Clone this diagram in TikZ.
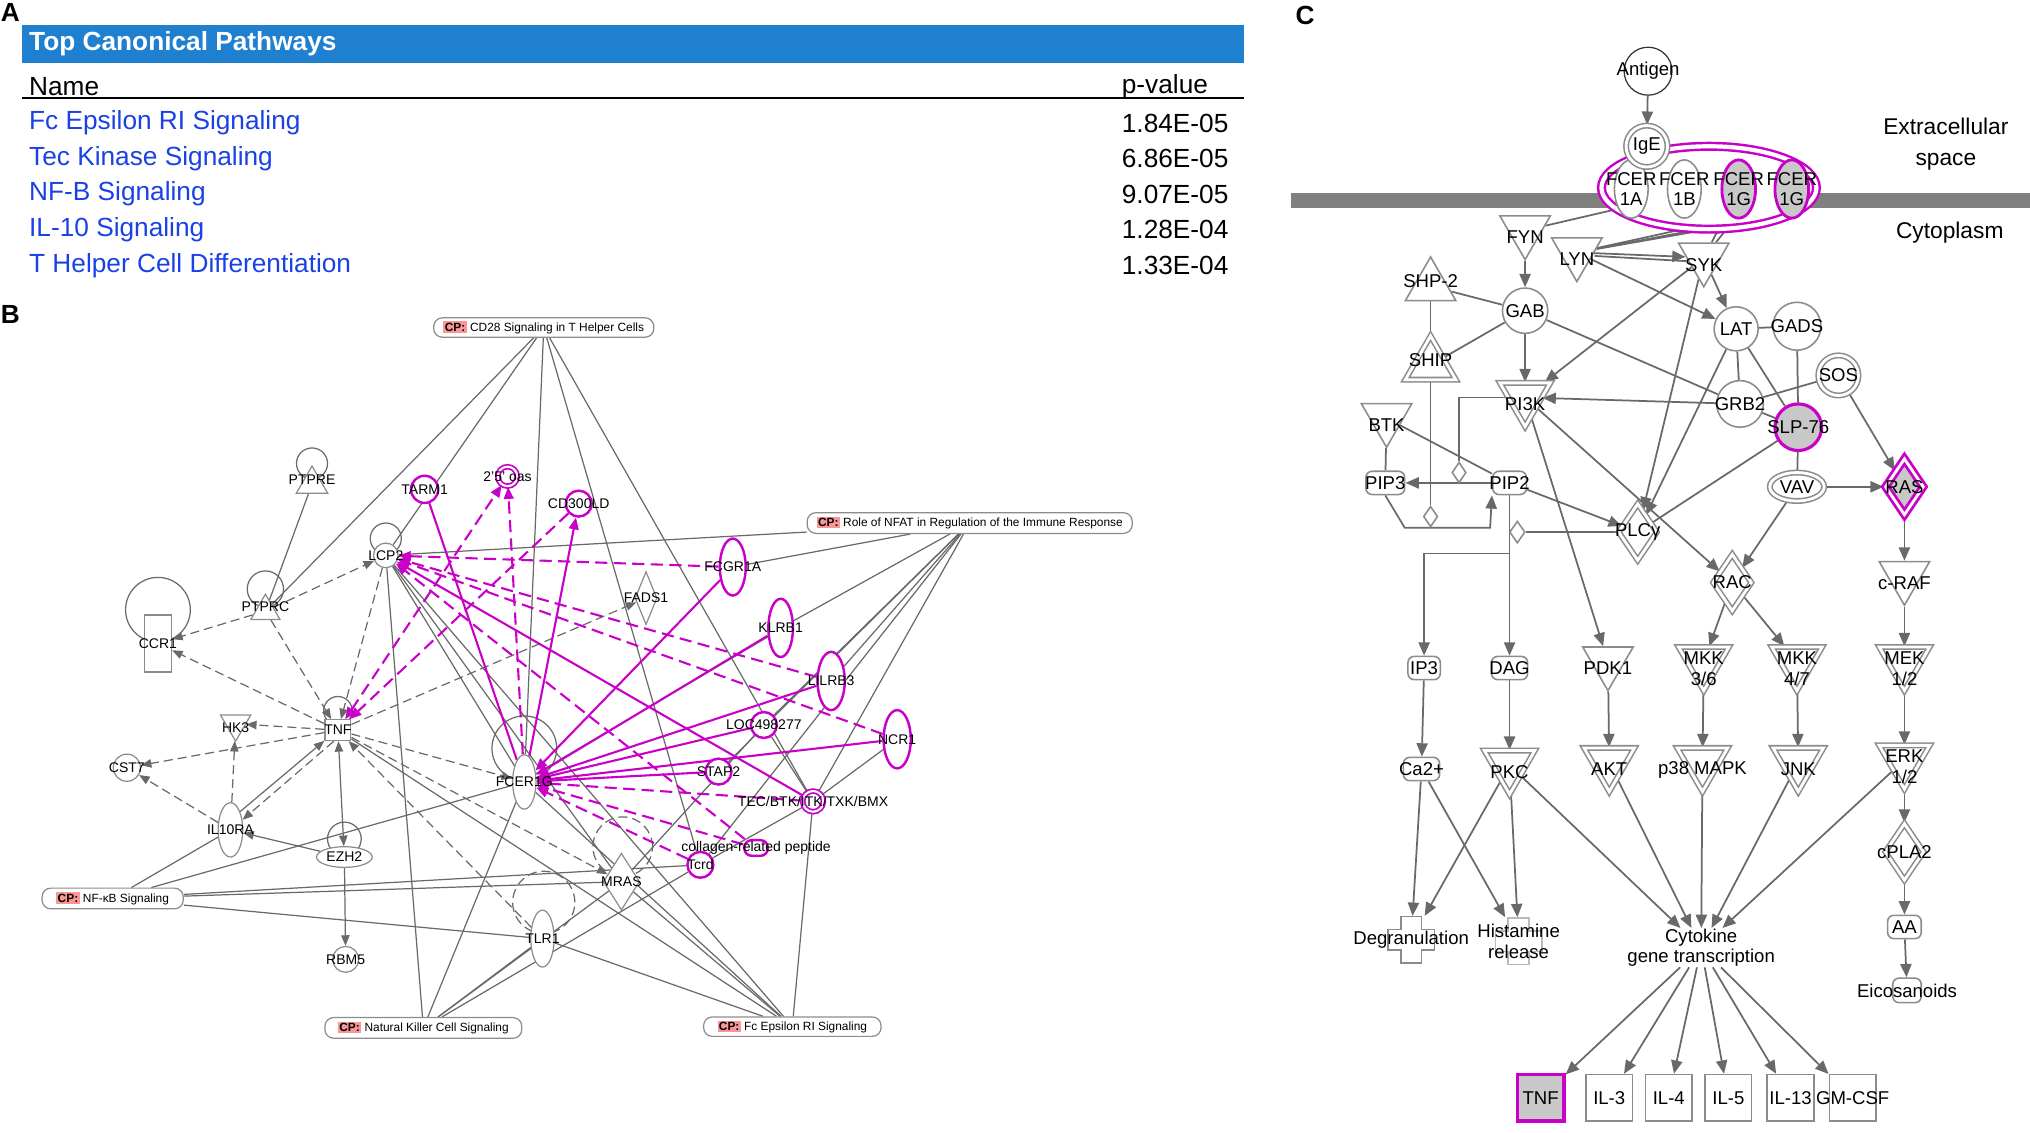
\documentclass[tikz,border=0pt]{standalone}
\usepackage{fontspec}
\setmainfont{Liberation Sans}
\usetikzlibrary{arrows.meta,shapes.geometric}
\pgfdeclarelayer{edges}
\pgfsetlayers{edges,main}

\definecolor{hdrblue}{RGB}{32,128,208}
\definecolor{pwblue}{RGB}{25,65,230}
\definecolor{ipamag}{RGB}{200,0,200}
\definecolor{lngray}{RGB}{105,105,105}
\definecolor{ndgray}{RGB}{140,140,140}
\definecolor{cppink}{RGB}{250,150,150}
\definecolor{fillgray}{RGB}{200,200,200}
\definecolor{membgray}{RGB}{128,128,128}

\newcommand\pxu{0.37pt}
\newcommand\cptag{{\setlength\fboxsep{0.4pt}\colorbox{cppink}{\bfseries CP:}}}

\tikzset{
  % panel A
  letter/.style={font=\fontsize{7.5}{8}\selectfont\bfseries, inner sep=0},
  hdrbar/.style={fill=hdrblue, minimum width=944*\pxu, minimum height=30*\pxu, inner sep=0},
  hdrtxt/.style={text=white, font=\fontsize{7.5}{8}\selectfont\bfseries, inner sep=0, anchor=west},
  colhead/.style={font=\fontsize{7.5}{8}\selectfont, inner sep=0, anchor=west},
  pwname/.style={text=pwblue, font=\fontsize{7.5}{8}\selectfont, inner sep=0, anchor=west},
  pval/.style={font=\fontsize{7.5}{8}\selectfont, inner sep=0, anchor=west},
  % panel B
  blb/.style={font=\fontsize{4}{4.4}\selectfont, inner sep=0},
  bnode/.style={draw=ndgray, fill=white, inner sep=0, line width=0.35pt},
  gcir/.style={bnode, circle, minimum size=20*\pxu, label={[blb]center:#1}},
  mcir/.style={bnode, circle, draw=ipamag, line width=0.7pt, minimum size=20*\pxu, label={[blb]center:#1}},
  mell/.style={bnode, ellipse, draw=ipamag, line width=0.7pt, label={[blb]center:#1}},
  gell/.style={bnode, ellipse, label={[blb]center:#1}},
  grect/.style={bnode, rectangle, label={[blb]center:#1}},
  gdia/.style={bnode, diamond, label={[blb]center:#1}},
  gtri/.style={bnode, regular polygon, regular polygon sides=3, minimum size=28*\pxu, label={[blb,yshift=1.3pt]center:#1}},
  gdtri/.style={bnode, regular polygon, regular polygon sides=3, shape border rotate=180, minimum size=27*\pxu, label={[blb,yshift=-1pt]center:#1}},
  cp/.style={draw=ndgray, fill=white, rounded corners=2.5pt, inner sep=0, line width=0.35pt, font=\fontsize{3.4}{3.6}\selectfont},
  gl/.style={draw=lngray, line width=0.35pt},
  gdl/.style={gl, dash pattern=on 2.6pt off 1.4pt},
  gs/.style={gl, -{Triangle[length=3pt,width=2.4pt]}},
  gd/.style={gs, dash pattern=on 2.6pt off 1.4pt},
  ml/.style={draw=ipamag, line width=0.6pt},
  ms/.style={ml, -{Triangle[length=3.4pt,width=2.8pt]}},
  md/.style={ms, dash pattern=on 3.5pt off 1.8pt},
  % panel C
  clb/.style={font=\fontsize{5.3}{5.9}\selectfont, inner sep=0, align=center},
  cnode/.style={draw=ndgray, fill=white, inner sep=0, line width=0.45pt},
  dbl/.style={double, double distance=0.8pt},
  ccir/.style={cnode, circle, minimum size=36*\pxu, label={[clb]center:#1}},
  cdn/.style={cnode, regular polygon, regular polygon sides=3, shape border rotate=180, minimum size=45*\pxu, label={[clb,yshift=-2pt]center:#1}},
  cup/.style={cnode, regular polygon, regular polygon sides=3, minimum size=45*\pxu, label={[clb,yshift=1.5pt]center:#1}},
  cdia/.style={cnode, dbl, diamond, minimum width=30*\pxu, minimum height=44*\pxu, label={[clb]center:#1}},
  cchem/.style={cnode, rectangle, rounded corners=1.8pt, minimum width=28*\pxu, minimum height=18*\pxu, label={[clb]center:#1}},
  cbox/.style={cnode, rectangle, minimum width=36*\pxu, minimum height=36*\pxu, label={[clb]center:#1}},
  cmod/.style={cnode, diamond, minimum width=11*\pxu, minimum height=16*\pxu},
  cl/.style={draw=lngray, line width=0.5pt},
  ca/.style={cl, -{Triangle[length=3.8pt,width=3.2pt]}},
}

\begin{document}
\begin{tikzpicture}[x=0.013cm, y=-0.013cm]
\useasboundingbox (0,0) rectangle (1568,875);

% ---------- A: pathway table ----------
\node[letter] (labA) at (8,10) {A};
\node[hdrbar] (hdr) at (489,34) {};
\node[hdrtxt] (hdrt) at (22,34) {Top Canonical Pathways};
\node[colhead] (colname) at (22,67) {Name};
\node[colhead] (colp) at (866,67) {p-value};
\draw[line width=0.6pt] (17,76) -- (961,76);
\foreach \n/\p [count=\i] in {Fc Epsilon RI Signaling/1.84E-05,
    Tec Kinase Signaling/6.86E-05, NF-B Signaling/9.07E-05,
    IL-10 Signaling/1.28E-04, T Helper Cell Differentiation/1.33E-04} {
  \node[pwname] (pw\i) at (22,67.5+27.5*\i) {\n};
  \node[pval] (pv\i) at (866,67.5+27.5*\i) {\p};
}

% ---------- B: network ----------
\node[letter] (labB) at (8,243) {B};

\node[cp, minimum width=170*\pxu, minimum height=15*\pxu] (cd28) at (420,253) {\cptag\ CD28 Signaling in T Helper Cells};
\node[cp, minimum width=251*\pxu, minimum height=16*\pxu] (nfat) at (749,404) {\cptag\ Role of NFAT in Regulation of the Immune Response};
\node[cp, minimum width=109*\pxu, minimum height=16*\pxu] (nfkb) at (87,694) {\cptag\ NF-κB Signaling};
\node[cp, minimum width=152*\pxu, minimum height=16*\pxu] (nk) at (327,794) {\cptag\ Natural Killer Cell Signaling};
\node[cp, minimum width=137*\pxu, minimum height=15*\pxu] (fce) at (612,793) {\cptag\ Fc Epsilon RI Signaling};

\node[gtri=PTPRE] (ptpre) at (241,374) {};
\node[mcir=TARM1, minimum size=21*\pxu] (tarm1) at (328,378) {};
\node[mcir={2'5' oas}, double, line width=0.5pt, double distance=0.6pt, minimum size=15*\pxu] (oas) at (392,368) {};
\node[mcir=CD300LD] (cd300ld) at (447,389) {};
\node[gcir=LCP2, minimum size=19*\pxu] (lcp2) at (298,429) {};
\node[gtri=PTPRC, minimum size=26*\pxu] (ptprc) at (205,472) {};
\node[grect=CCR1, minimum width=21*\pxu, minimum height=44*\pxu] (ccr1) at (122,497) {};
\node[mell=FCGR1A, minimum width=20*\pxu, minimum height=44*\pxu] (fcgr1a) at (566,438) {};
\node[gdia=FADS1, minimum width=17*\pxu, minimum height=41*\pxu] (fads1) at (499,462) {};
\node[mell=KLRB1, minimum width=19*\pxu, minimum height=45*\pxu] (klrb1) at (603,485) {};
\node[mell=LILRB3, minimum width=21*\pxu, minimum height=45*\pxu] (lilrb3) at (642,526) {};
\node[mcir=LOC498277] (loc) at (590,560) {};
\node[mell=NCR1, minimum width=21*\pxu, minimum height=45*\pxu] (ncr1) at (693,571) {};
\node[mcir=STAP2] (stap2) at (555,596) {};
\node[mcir=TEC/BTK/ITK/TXK/BMX, double, line width=0.5pt, double distance=0.6pt, minimum size=16*\pxu] (tec) at (628,619) {};
\node[mcir=Tcrd] (tcrd) at (541,668) {};
\node[bnode, draw=ipamag, line width=0.7pt, rounded corners=2pt, minimum width=18*\pxu, minimum height=12*\pxu, label={[blb]center:collagen-related peptide}] (crp) at (584,655) {};
\node[gdia=MRAS, minimum width=28*\pxu, minimum height=44*\pxu] (mras) at (480,681) {};
\node[gell=TLR1, minimum width=18*\pxu, minimum height=44*\pxu] (tlr1) at (419,725) {};
\node[gell=FCER1G, minimum width=18*\pxu, minimum height=42*\pxu] (fcer1g) at (405,604) {};
\node[grect=TNF, minimum width=20*\pxu, minimum height=16*\pxu] (tnfb) at (261,564) {};
\node[gdtri=HK3] (hk3) at (182,559) {};
\node[gcir=CST7, minimum size=21*\pxu] (cst7) at (98,593) {};
\node[gell=IL10RA, minimum width=19*\pxu, minimum height=42*\pxu] (il10ra) at (178,641) {};
\node[gell=EZH2, minimum width=43*\pxu, minimum height=16*\pxu] (ezh2) at (266,662) {};
\node[gcir=RBM5] (rbm5) at (267,741) {};

\begin{pgfonlayer}{edges}
  % self loops
  \draw[gl] (ccr1.center) ++(0,-26) circle[radius=25*\pxu];
  \draw[gl] (ptpre.center) ++(0,-16) circle[radius=12*\pxu];
  \draw[gl] (ptprc.center) ++(0,-17) circle[radius=14*\pxu];
  \draw[gl] (lcp2.center) ++(0,-13) circle[radius=12*\pxu];
  \draw[gl] (tnfb.center) ++(0,-15) circle[radius=11*\pxu];
  \draw[gl] (ezh2.center) ++(0,-14) circle[radius=13*\pxu];
  \draw[gl] (fcer1g.center) ++(0,-26) circle[radius=25*\pxu];
  \draw[gdl] (tlr1.center) ++(1,-28) circle[radius=24*\pxu];
  \draw[gdl] (mras.center) ++(1,-27) circle[radius=23*\pxu];

  % pathway memberships
  \foreach \sb in {ptprc,lcp2,fcer1g,tcrd,tec} \draw[gl] (cd28) -- (\sb);
  \foreach \sb in {lcp2,fcgr1a,klrb1,lilrb3,loc,stap2,tec,tcrd} \draw[gl] (nfat) -- (\sb);
  \foreach \sb in {il10ra,fcer1g,mras,tcrd,tlr1} \draw[gl] (nfkb) -- (\sb);
  \foreach \sb in {lcp2,fcer1g,tlr1,mras,tcrd} \draw[gl] (nk) -- (\sb);
  \foreach \sb in {tec,mras,fcer1g,tnfb,tlr1,lcp2} \draw[gl] (fce) -- (\sb);
  \foreach \sa/\sb in {ptpre/ptprc, lcp2/fcer1g, lcp2/mras, loc/mras, loc/tec, ncr1/tec, tec/tcrd}
    \draw[gl] (\sa) -- (\sb);
  \draw[gl] (klrb1.215) -- (fcer1g.35);

  % grey relations
  \foreach \sa/\sb in {ptprc/ccr1, ptprc/lcp2, ptprc/tnfb, tnfb/ccr1, lcp2/tnfb,
      tnfb/hk3, tnfb/cst7, il10ra/cst7, il10ra/hk3, tnfb/fcer1g, tnfb/fads1,
      tnfb/mras, tlr1/tnfb}
    \draw[gd] (\sa) -- (\sb);
  \draw[gd] (tnfb.250) -- (il10ra.40);
  \draw[gs] (il10ra.62) -- (tnfb.218);
  \draw[gs] (ezh2) -- (il10ra);
  \draw[gl, {Triangle[length=3pt,width=2.4pt]}-{Triangle[length=3pt,width=2.4pt]}] (tnfb) -- (ezh2);
  \draw[gs] (ezh2) -- (rbm5);

  % magenta relations
  \foreach \sa in {fcgr1a,klrb1,lilrb3,loc,ncr1,stap2} \draw[ms] (\sa) -- (fcer1g);
  \draw[ml] (tarm1) -- (fcer1g);
  \draw[ms] (fcer1g) -- (cd300ld);
  \draw[ms] (tec) -- (lcp2);
  \draw[md] (fcer1g) -- (oas);
  \draw[md, {Triangle[length=3.4pt,width=2.8pt]}-{Triangle[length=3.4pt,width=2.8pt]}] (tnfb) -- (oas);
  \draw[md] (cd300ld) -- (tnfb);
  \foreach \sa in {fcgr1a,lilrb3,ncr1,crp} \draw[md] (\sa) -- (lcp2);
  \foreach \sa in {tec,crp,tcrd} \draw[md] (\sa) -- (fcer1g);
\end{pgfonlayer}

% ---------- C: Fc epsilon RI pathway ----------
\node[letter] (labC) at (1008,12) {C};
\node[font=\fontsize{6.5}{8.9}\selectfont, align=center, inner sep=0] (extra) at (1503,111) {Extracellular\\space};
\node[font=\fontsize{6.5}{8.9}\selectfont, inner sep=0] (cyto) at (1506,180) {Cytoplasm};

\node[ccir=Antigen, draw=black!80, line width=0.35pt, minimum size=37*\pxu] (antigen) at (1273,55) {};
\node[cnode, ellipse, draw=ipamag, line width=0.7pt, double, double distance=1.2pt, minimum width=166*\pxu, minimum height=64*\pxu] (cplx) at (1320,145) {};
\node[cnode, ellipse, minimum width=26*\pxu, minimum height=45*\pxu, label={[clb]center:FCER\\1A}] (fc1a) at (1260,146) {};
\node[cnode, ellipse, minimum width=26*\pxu, minimum height=45*\pxu, label={[clb]center:FCER\\1B}] (fc1b) at (1301,146) {};
\node[cnode, ellipse, fill=fillgray, draw=ipamag, line width=0.8pt, minimum width=26*\pxu, minimum height=45*\pxu, label={[clb]center:FCER\\1G}] (fc1g) at (1343,146) {};
\node[cnode, ellipse, fill=fillgray, draw=ipamag, line width=0.8pt, minimum width=26*\pxu, minimum height=45*\pxu, label={[clb]center:FCER\\1G}] (fc1gb) at (1384,146) {};
\node[ccir=IgE, dbl, minimum size=32*\pxu] (ige) at (1272,113) {};

\node[cdn=FYN] (fyn) at (1178,178) {};
\node[cdn=LYN] (lyn) at (1218,195) {};
\node[cdn=SYK] (syk) at (1316,199) {};
\node[cup=SHP-2] (shp2) at (1105,221) {};
\node[cup=SHIP, dbl] (ship) at (1105,282) {};
\node[ccir=GAB, minimum size=35*\pxu] (gab) at (1178,240) {};
\node[ccir=LAT, minimum size=34*\pxu] (lat) at (1341,254) {};
\node[ccir=GADS, minimum size=37*\pxu] (gads) at (1388,252) {};
\node[ccir=SOS, dbl, minimum size=31*\pxu] (sos) at (1420,290) {};
\node[cdn=PI3K, dbl] (pi3k) at (1178,307) {};
\node[ccir=GRB2] (grb2) at (1344,312) {};
\node[ccir=SLP-76, fill=fillgray, draw=ipamag, line width=0.9pt] (slp76) at (1389,330) {};
\node[cdn=BTK] (btk) at (1071,323) {};
\node[cchem=PIP3, minimum width=30*\pxu] (pip3) at (1070,373) {};
\node[cchem=PIP2, minimum width=26*\pxu] (pip2) at (1166,373) {};
\node[cnode, ellipse, dbl, minimum width=42*\pxu, minimum height=22*\pxu, label={[clb]center:VAV}] (vav) at (1388,376) {};
\node[cdia=RAS, fill=fillgray, draw=ipamag, line width=0.8pt] (ras) at (1471,376) {};
\node[cdia=PLCγ] (plcg) at (1265,411) {};
\node[cdia=RAC] (rac) at (1338,450) {};
\node[cdn=c-RAF] (craf) at (1471,445) {};
\node[cmod] (pmod1) at (1127,365) {};
\node[cmod] (pmod2) at (1105,399) {};
\node[cmod, minimum width=12*\pxu, minimum height=17*\pxu] (pmod3) at (1172,411) {};
\node[cchem=IP3, minimum width=25*\pxu] (ip3) at (1100,516) {};
\node[cchem=DAG] (dag) at (1166,516) {};
\node[cdn=PDK1] (pdk1) at (1242,511) {};
\node[cdn={MKK\\3/6}, dbl] (mkk36) at (1316,511) {};
\node[cdn={MKK\\4/7}, dbl] (mkk47) at (1388,511) {};
\node[cdn={MEK\\1/2}, dbl] (mek) at (1471,511) {};
\node[cchem=Ca2+] (ca2) at (1098,594) {};
\node[cdn=PKC, dbl] (pkc) at (1166,591) {};
\node[cdn=AKT, dbl] (akt) at (1243,589) {};
\node[cdn=p38 MAPK, dbl] (p38) at (1315,589) {};
\node[cdn=JNK, dbl] (jnk) at (1389,589) {};
\node[cdn={ERK\\1/2}, dbl] (erk) at (1471,587) {};
\node[cdia=cPLA2] (cpla2) at (1471,658) {};
\node[cchem=AA, minimum width=26*\pxu] (aa) at (1471,716) {};
\node[cchem=Eicosanoids, minimum width=22*\pxu, minimum height=19*\pxu] (eico) at (1473,765) {};

% function nodes
\node[inner sep=0, minimum size=36*\pxu] (degr) at (1090,726) {};
\draw[cnode] (degr.center) ++(-8,-18) -- ++(16,0) -- ++(0,10) -- ++(10,0) -- ++(0,16) -- ++(-10,0)
  -- ++(0,10) -- ++(-16,0) -- ++(0,-10) -- ++(-10,0) -- ++(0,-16) -- ++(10,0) -- cycle;
\node[clb] (degrt) at (degr) {Degranulation};
\node[inner sep=0, minimum size=36*\pxu] (hist) at (1173,727) {};
\draw[cnode, draw=ndgray!60] (hist.center) ++(-8,-18) -- ++(16,0) -- ++(0,10) -- ++(10,0) -- ++(0,16) -- ++(-10,0)
  -- ++(0,10) -- ++(-16,0) -- ++(0,-10) -- ++(-10,0) -- ++(0,-16) -- ++(10,0) -- cycle;
\node[clb] (histt) at (hist) {Histamine\\release};
\node[clb] (cyt) at (1314,732) {Cytokine\\gene transcription};

\node[cbox=TNF, fill=fillgray, draw=ipamag, line width=1pt] (tnfc) at (1190,848) {};
\node[cbox=IL-3] (il3) at (1243,848) {};
\node[cbox=IL-4] (il4) at (1289,848) {};
\node[cbox=IL-5] (il5) at (1335,848) {};
\node[cbox=IL-13] (il13) at (1383,848) {};
\node[cbox=GM-CSF] (gmcsf) at (1431,848) {};

\begin{pgfonlayer}{edges}
  \fill[membgray] (997,149) rectangle (1568,161);
  \draw[ca] (antigen) -- (ige);
  \draw[cl] (cplx) -- (fyn);
  \foreach \ang in {238,252,262} \draw[cl] (cplx.\ang) -- (lyn);
  \foreach \ang in {282,292} \draw[cl] (cplx.\ang) -- (syk);
  \draw[ca] (lyn) -- (syk);
  \draw[cl] ([yshift=-1pt]lyn.east) -- ([yshift=-1pt]syk.west);
  \draw[ca] (lyn) -- (lat);
  \draw[ca] (fyn) -- (gab);
  \draw[cl] (shp2) -- (gab);
  \draw[cl] (shp2) -- (ship);
  \draw[cl] (gab) -- (ship);
  \draw[ca] (gab) -- (pi3k);
  \draw[cl] (gab) -- (grb2);
  \draw[ca] (syk) -- (pi3k);
  \draw[ca] (syk) -- (lat);
  \draw[ca] (syk) -- (plcg);
  \draw[ca] (lat) -- (plcg);
  \draw[cl] (lat) -- (gads);
  \draw[cl] (lat) -- (grb2);
  \draw[cl] (lat) -- (slp76);
  \draw[cl] (gads) -- (slp76);
  \draw[cl] (sos) -- (grb2);
  \draw[ca] (sos) -- (ras);
  \draw[ca] (grb2) -- (pi3k);
  \draw[cl] (grb2) -- (slp76);
  \draw[cl] (slp76) -- (vav);
  \draw[cl] (slp76) -- (plcg);
  \draw[ca] (vav) -- (ras);
  \draw[ca] (vav) -- (rac);
  \draw[ca] (pi3k) -- (rac);
  \draw[ca] (pi3k) -- (pdk1);
  \draw[cl] (btk) -- (pip3);
  \draw[cl] (btk) -- (pip2);
  \draw[ca] (pip2) -- (pip3);
  \draw[ca] (pip3.south) -- ++(15,25) -- ++(66,0) -- (pip2.south west);
  \draw[cl] (ship) -- (pmod2);
  \draw[cl] (pi3k.west) -| (pmod1);
  \draw[ca] (pip2) -- (plcg);
  \draw[cl] (plcg) -- (pmod3);
  \draw[ca] (pip2.south) -- ++(0,45) -| (ip3.north);
  \draw[ca] (pip2) -- (dag);
  \draw[ca] (ip3) -- (ca2);
  \draw[ca] (dag) -- (pkc);
  \draw[ca] (pdk1) -- (akt);
  \draw[ca] (rac) -- (mkk36);
  \draw[ca] (rac) -- (mkk47);
  \draw[ca] (mkk36) -- (p38);
  \draw[ca] (mkk47) -- (jnk);
  \draw[ca] (ras) -- (craf);
  \draw[ca] (craf) -- (mek);
  \draw[ca] (mek) -- (erk);
  \draw[ca] (erk) -- (cpla2);
  \draw[ca] (cpla2) -- (aa);
  \draw[ca] (aa) -- (eico);
  \foreach \sa/\sb in {ca2/degr, ca2/hist, pkc/degr, pkc/hist, pkc/cyt,
      akt/cyt, p38/cyt, jnk/cyt, erk/cyt}
    \draw[ca] (\sa) -- (\sb);
  \foreach \sb in {tnfc,il3,il4,il5,il13,gmcsf} \draw[ca] (cyt) -- (\sb);
\end{pgfonlayer}
\end{tikzpicture}
\end{document}
